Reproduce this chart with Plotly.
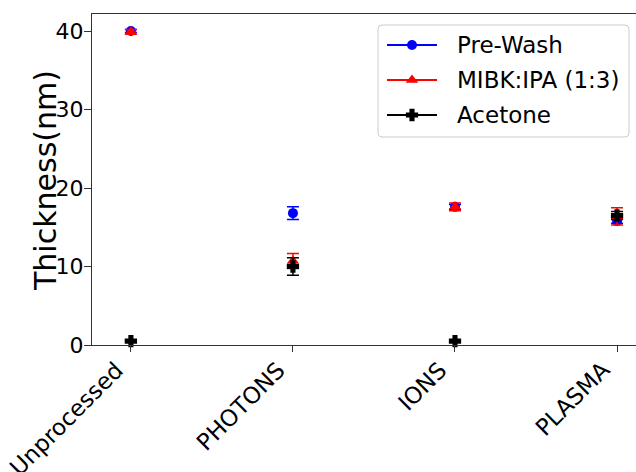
import plotly.graph_objects as go

categories = ["Unprocessed", "PHOTONS", "IONS", "PLASMA"]
prewash = [40.0, 16.8, 17.6, 15.8]
prewash_err = [0.2, 0.8, 0.3, 0.3]
mibk = [39.9, 10.7, 17.6, 16.4]
mibk_err = [0.3, 0.95, 0.5, 1.1]
acetone = [0.5, 10.0, 0.5, 16.5]
acetone_err = [0.1, 1.1, 0.1, 0.5]

xs = list(range(len(categories)))
series = [
    ("Pre-Wash", prewash, prewash_err, "#0000ff", "circle", 10, 0),
    ("MIBK:IPA (1:3)", mibk, mibk_err, "#ff0000", "triangle-up", 11, 0),
    ("Acetone", acetone, acetone_err, "#000000", "cross", 9, 1.5),
]

# plot area in pixels
L, R, T, B = 92, 636, 14, 345
W, H = R - L, B - T


def px(xp):
    return (xp - L) / W


def py(yp):
    return (B - yp) / H


fig = go.Figure()
for name, vals, errs, col, sym, sz, lw in series:
    fig.add_trace(go.Scatter(
        x=xs, y=vals, mode="markers", showlegend=False, cliponaxis=False,
        marker=dict(color=col, symbol=sym, size=sz, line=dict(color=col, width=lw)),
        error_y=dict(type="data", array=errs, visible=True, color=col, thickness=1.5, width=6),
    ))

# manual legend box with rounded corners
x0, x1, y0, y1, r = 378, 629, 25, 137, 4
path = (f"M {px(x0 + r)},{py(y0)} L {px(x1 - r)},{py(y0)} Q {px(x1)},{py(y0)} {px(x1)},{py(y0 + r)} "
        f"L {px(x1)},{py(y1 - r)} Q {px(x1)},{py(y1)} {px(x1 - r)},{py(y1)} "
        f"L {px(x0 + r)},{py(y1)} Q {px(x0)},{py(y1)} {px(x0)},{py(y1 - r)} "
        f"L {px(x0)},{py(y0 + r)} Q {px(x0)},{py(y0)} {px(x0 + r)},{py(y0)} Z")
shapes = [dict(type="path", xref="paper", yref="paper", path=path,
               line=dict(color="#cccccc", width=1), fillcolor="white", layer="below")]
annotations = []
rows = [45, 80, 115]
for (name, vals, errs, col, sym, sz, lw), ry in zip(series, rows):
    fig.add_trace(go.Scatter(
        x=[px(387), px(437)], y=[py(ry), py(ry)], xaxis="x2", yaxis="y2", mode="lines",
        showlegend=False, hoverinfo="skip", cliponaxis=False,
        line=dict(color=col, width=2),
    ))
    fig.add_trace(go.Scatter(
        x=[px(412)], y=[py(ry)], xaxis="x2", yaxis="y2", mode="markers",
        showlegend=False, hoverinfo="skip", cliponaxis=False,
        marker=dict(color=col, symbol=sym, size=sz, line=dict(color=col, width=lw)),
    ))
    annotations.append(dict(text=name, xref="paper", yref="paper", x=px(455), y=py(ry),
                            xanchor="left", yanchor="middle", showarrow=False,
                            font=dict(size=23, color="black")))

annotations.append(dict(text="Thickness(nm)", xref="paper", yref="paper",
                        x=px(45), y=py(181), textangle=-90, showarrow=False,
                        xanchor="center", yanchor="middle",
                        font=dict(size=30, color="black")))

# x tick labels as rotated annotations anchored at their top-right corner
for xv, lab in zip(xs, categories):
    annotations.append(dict(text=lab, xref="x", yref="paper", x=xv, y=0, yshift=-9,
                            textangle=-45, showarrow=False, xanchor="right", yanchor="top",
                            font=dict(size=23, color="black")))

fig.update_layout(
    width=636, height=472,
    margin=dict(l=L, r=0, t=T, b=472 - B),
    paper_bgcolor="white", plot_bgcolor="white",
    font=dict(family="DejaVu Sans", size=22, color="black"),
    showlegend=False,
    shapes=shapes, annotations=annotations,
    xaxis=dict(range=[-0.24, 3.117], tickvals=xs, showticklabels=False,
               showgrid=False, zeroline=False, showline=True, linecolor="#333", linewidth=1.3,
               mirror=True, ticks="outside", ticklen=6, tickcolor="#333", automargin=False),
    yaxis=dict(range=[0, 42.17], tickvals=[0, 10, 20, 30, 40],
               showgrid=False, zeroline=False, showline=True, linecolor="#333", linewidth=1.3,
               ticks="outside", ticklen=7, tickcolor="#333", tickfont=dict(size=22),
               ticklabelstandoff=-4, automargin=False),
    xaxis2=dict(overlaying="x", range=[0, 1], visible=False, fixedrange=True),
    yaxis2=dict(overlaying="y", range=[0, 1], visible=False, fixedrange=True),
)
fig.write_html("out.html")
